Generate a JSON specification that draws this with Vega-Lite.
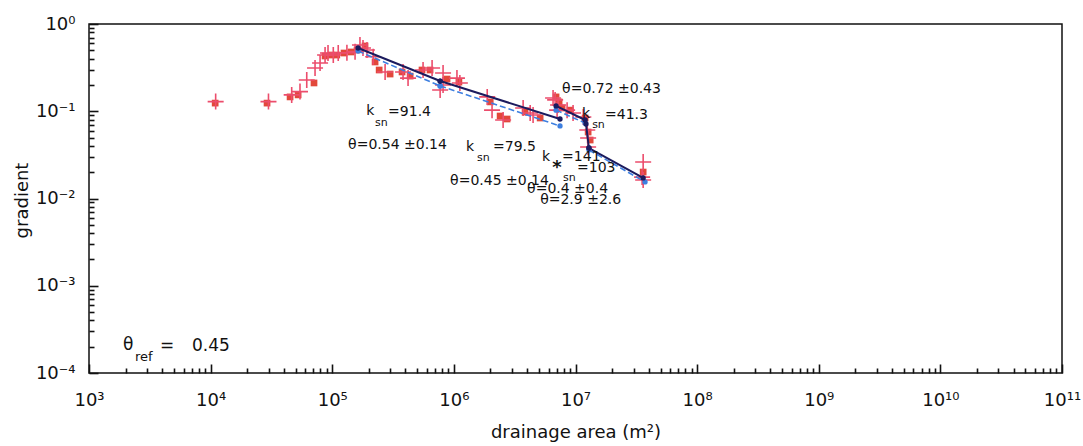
{
  "$schema": "https://vega.github.io/schema/vega-lite/v6.json",
  "width": 973,
  "height": 349,
  "autosize": {"type": "none"},
  "padding": {"left": 89, "top": 24, "right": 21, "bottom": 73},
  "background": "white",
  "config": {"view": {"stroke": "#111", "strokeWidth": 1.5}, "font": "DejaVu Sans"},
  "datasets": {
    "squares": [
      {"x": 10900, "y": 0.124}, {"x": 29100, "y": 0.124}, {"x": 45000, "y": 0.146}, {"x": 52400, "y": 0.154},
      {"x": 70800, "y": 0.211}, {"x": 87300, "y": 0.43}, {"x": 97800, "y": 0.441}, {"x": 109000, "y": 0.441},
      {"x": 125000, "y": 0.465}, {"x": 143000, "y": 0.478}, {"x": 160000, "y": 0.503}, {"x": 186000, "y": 0.56},
      {"x": 225000, "y": 0.367}, {"x": 243000, "y": 0.297}, {"x": 299000, "y": 0.267}, {"x": 375000, "y": 0.282},
      {"x": 437000, "y": 0.253}, {"x": 547000, "y": 0.297}, {"x": 637000, "y": 0.297}, {"x": 879000, "y": 0.234},
      {"x": 1100000, "y": 0.216}, {"x": 1990000, "y": 0.128}, {"x": 2400000, "y": 0.0882}, {"x": 2740000, "y": 0.0815},
      {"x": 3850000, "y": 0.098}, {"x": 5120000, "y": 0.0837}, {"x": 6920000, "y": 0.146}, {"x": 7330000, "y": 0.128},
      {"x": 7760000, "y": 0.109}, {"x": 9040000, "y": 0.103}, {"x": 12000000, "y": 0.0837}, {"x": 12700000, "y": 0.0578},
      {"x": 13200000, "y": 0.0468}, {"x": 36000000, "y": 0.0201}
    ],
    "crosses": [
      {"x": 11000, "y": 0.129}, {"x": 29900, "y": 0.129}, {"x": 46400, "y": 0.154}, {"x": 54300, "y": 0.168},
      {"x": 61700, "y": 0.228}, {"x": 72200, "y": 0.313}, {"x": 79400, "y": 0.357}, {"x": 87300, "y": 0.441},
      {"x": 92300, "y": 0.465}, {"x": 102000, "y": 0.441}, {"x": 112000, "y": 0.465}, {"x": 132000, "y": 0.469},
      {"x": 154000, "y": 0.481}, {"x": 169000, "y": 0.574}, {"x": 179000, "y": 0.531}, {"x": 193000, "y": 0.503},
      {"x": 217000, "y": 0.422}, {"x": 272000, "y": 0.282}, {"x": 382000, "y": 0.282}, {"x": 420000, "y": 0.24},
      {"x": 558000, "y": 0.297}, {"x": 662000, "y": 0.313}, {"x": 815000, "y": 0.274}, {"x": 1060000, "y": 0.24},
      {"x": 1120000, "y": 0.211}, {"x": 771000, "y": 0.175}, {"x": 815000, "y": 0.2}, {"x": 1880000, "y": 0.146},
      {"x": 2060000, "y": 0.103}, {"x": 2540000, "y": 0.0794}, {"x": 3710000, "y": 0.109}, {"x": 4240000, "y": 0.0955},
      {"x": 4480000, "y": 0.0906}, {"x": 6540000, "y": 0.142}, {"x": 7060000, "y": 0.103}, {"x": 6800000, "y": 0.135},
      {"x": 7190000, "y": 0.118}, {"x": 8530000, "y": 0.103}, {"x": 9550000, "y": 0.0955}, {"x": 11600000, "y": 0.0859},
      {"x": 12500000, "y": 0.061}, {"x": 12700000, "y": 0.0493}, {"x": 12700000, "y": 0.0389}, {"x": 36000000, "y": 0.0262},
      {"x": 36000000, "y": 0.0163}, {"x": 35300000, "y": 0.0176}
    ],
    "fit": [
      {"seg": "A", "x": 163000, "y": 0.531}, {"seg": "A", "x": 771000, "y": 0.222},
      {"seg": "B", "x": 771000, "y": 0.222}, {"seg": "B", "x": 7460000, "y": 0.0815},
      {"seg": "C", "x": 6920000, "y": 0.115}, {"seg": "C", "x": 12000000, "y": 0.0794},
      {"seg": "D", "x": 12200000, "y": 0.0714}, {"seg": "D", "x": 12900000, "y": 0.0379},
      {"seg": "E", "x": 12900000, "y": 0.0379}, {"seg": "E", "x": 36000000, "y": 0.0172}
    ],
    "ref": [
      {"seg": "A", "x": 163000, "y": 0.49}, {"seg": "A", "x": 771000, "y": 0.195},
      {"seg": "B", "x": 771000, "y": 0.195}, {"seg": "B", "x": 7460000, "y": 0.0678},
      {"seg": "C", "x": 6920000, "y": 0.103}, {"seg": "C", "x": 12000000, "y": 0.0733},
      {"seg": "D", "x": 12900000, "y": 0.036}, {"seg": "D", "x": 37300000, "y": 0.0155}
    ],
    "labels": [
      {"kind": "main", "t": "k", "x": 190000, "y": 0.1007},
      {"kind": "main", "t": "=91.4", "x": 288000, "y": 0.098},
      {"kind": "sub", "t": "sn", "x": 225000, "y": 0.0733},
      {"kind": "main", "t": "θ=0.54 ±0.14", "x": 135000, "y": 0.041},
      {"kind": "main", "t": "k", "x": 1260000, "y": 0.0389},
      {"kind": "main", "t": "=79.5", "x": 2100000, "y": 0.0389},
      {"kind": "sub", "t": "sn", "x": 1550000, "y": 0.0291},
      {"kind": "main", "t": "θ=0.45 ±0.14", "x": 931000, "y": 0.0159},
      {"kind": "main", "t": "θ=0.72 ±0.43", "x": 7760000, "y": 0.18},
      {"kind": "main", "t": "k", "x": 11300000, "y": 0.0929},
      {"kind": "main", "t": "=41.3", "x": 17500000, "y": 0.0906},
      {"kind": "sub", "t": "sn", "x": 13700000, "y": 0.0696},
      {"kind": "main", "t": "k", "x": 5310000, "y": 0.0299},
      {"kind": "main", "t": "=141", "x": 7760000, "y": 0.0299},
      {"kind": "star", "t": "*", "x": 6430000, "y": 0.0224},
      {"kind": "main", "t": "=103", "x": 10300000, "y": 0.0224},
      {"kind": "sub", "t": "sn", "x": 7910000, "y": 0.0172},
      {"kind": "main", "t": "θ=0.4 ±0.4", "x": 4000000, "y": 0.01285},
      {"kind": "main", "t": "θ=2.9 ±2.6", "x": 5120000, "y": 0.0096},
      {"kind": "big", "t": "θ", "x": 1900, "y": 0.000209},
      {"kind": "bigsub", "t": "ref", "x": 2390, "y": 0.000152},
      {"kind": "big", "t": "=", "x": 3840, "y": 0.000204},
      {"kind": "big", "t": "0.45", "x": 7030, "y": 0.000204}
    ]
  },
  "encoding": {
    "x": {
      "field": "x", "type": "quantitative",
      "scale": {"type": "log", "domain": [1000, 100000000000], "nice": false},
      "axis": {
        "orient": "bottom",
        "values": [1e3,2e3,3e3,4e3,5e3,6e3,7e3,8e3,9e3,1e4,2e4,3e4,4e4,5e4,6e4,7e4,8e4,9e4,1e5,2e5,3e5,4e5,5e5,6e5,7e5,8e5,9e5,1e6,2e6,3e6,4e6,5e6,6e6,7e6,8e6,9e6,1e7,2e7,3e7,4e7,5e7,6e7,7e7,8e7,9e7,1e8,2e8,3e8,4e8,5e8,6e8,7e8,8e8,9e8,1e9,2e9,3e9,4e9,5e9,6e9,7e9,8e9,9e9,1e10,2e10,3e10,4e10,5e10,6e10,7e10,8e10,9e10,1e11],
        "labelExpr": "abs(log(datum.value)/LN10 - round(log(datum.value)/LN10)) < 0.001 ? ['10³','10⁴','10⁵','10⁶','10⁷','10⁸','10⁹','10¹⁰','10¹¹'][round(log(datum.value)/LN10)-3] : ''",
        "tickSize": {"condition": {"test": "abs(log(datum.value)/LN10 - round(log(datum.value)/LN10)) < 0.001", "value": -9}, "value": -5},
        "labelPadding": 27,
        "labelOverlap": false,
        "labelFlush": false,
        "labelFont": "DejaVu Sans", "labelFontSize": 18, "labelColor": "#111",
        "tickColor": "#111", "tickWidth": 1.6, "domain": false,
        "grid": false,
        "title": "drainage area (m²)",
        "titleFont": "DejaVu Sans", "titleFontSize": 18, "titleFontWeight": "normal", "titleColor": "#111",
        "titleBaseline": "top", "titleY": 50
      }
    },
    "y": {
      "field": "y", "type": "quantitative",
      "scale": {"type": "log", "domain": [0.0001, 1], "nice": false},
      "axis": {
        "orient": "left",
        "values": [1e-4,2e-4,3e-4,4e-4,5e-4,6e-4,7e-4,8e-4,9e-4,1e-3,2e-3,3e-3,4e-3,5e-3,6e-3,7e-3,8e-3,9e-3,1e-2,2e-2,3e-2,4e-2,5e-2,6e-2,7e-2,8e-2,9e-2,0.1,0.2,0.3,0.4,0.5,0.6,0.7,0.8,0.9,1],
        "labelExpr": "abs(log(datum.value)/LN10 - round(log(datum.value)/LN10)) < 0.001 ? ['10⁻⁴','10⁻³','10⁻²','10⁻¹','10⁰'][round(log(datum.value)/LN10)+4] : ''",
        "tickSize": {"condition": {"test": "abs(log(datum.value)/LN10 - round(log(datum.value)/LN10)) < 0.001", "value": -9}, "value": -5},
        "labelPadding": 23,
        "labelOverlap": false,
        "labelFlush": false,
        "labelFont": "DejaVu Sans", "labelFontSize": 18, "labelColor": "#111",
        "tickColor": "#111", "tickWidth": 1.6, "domain": false,
        "grid": false,
        "title": "gradient",
        "titleFont": "DejaVu Sans", "titleFontSize": 18, "titleFontWeight": "normal", "titleColor": "#111",
        "titleBaseline": "middle", "titleX": -67, "titleY": 176
      }
    }
  },
  "layer": [
    {
      "data": {"name": "squares"},
      "mark": {"type": "square", "filled": true, "size": 45, "color": "#e2483a", "opacity": 1}
    },
    {
      "data": {"name": "crosses"},
      "mark": {"type": "point", "shape": "M-1,0L1,0M0,-1L0,1", "filled": false, "size": 256, "strokeWidth": 1.6, "color": "#ec4d6c", "opacity": 1}
    },
    {
      "data": {"name": "ref"},
      "mark": {"type": "line", "color": "#3d7fe0", "strokeWidth": 1.6, "strokeDash": [6, 3]},
      "encoding": {"detail": {"field": "seg"}}
    },
    {
      "data": {"name": "fit"},
      "mark": {"type": "line", "color": "#1b1b5e", "strokeWidth": 2},
      "encoding": {"detail": {"field": "seg"}}
    },
    {
      "data": {"name": "ref"},
      "mark": {"type": "point", "filled": true, "size": 28, "color": "#3d7fe0", "opacity": 1}
    },
    {
      "data": {"name": "fit"},
      "mark": {"type": "point", "filled": true, "size": 28, "color": "#1b1b5e", "opacity": 1}
    },
    {
      "data": {"name": "labels"},
      "transform": [{"filter": "datum.kind === 'main'"}],
      "mark": {"type": "text", "align": "left", "baseline": "middle", "font": "DejaVu Sans", "fontSize": 14, "color": "#111"},
      "encoding": {"text": {"field": "t"}}
    },
    {
      "data": {"name": "labels"},
      "transform": [{"filter": "datum.kind === 'sub'"}],
      "mark": {"type": "text", "align": "left", "baseline": "middle", "font": "DejaVu Sans", "fontSize": 11, "color": "#111"},
      "encoding": {"text": {"field": "t"}}
    },
    {
      "data": {"name": "labels"},
      "transform": [{"filter": "datum.kind === 'star'"}],
      "mark": {"type": "text", "align": "left", "baseline": "middle", "font": "DejaVu Sans", "fontSize": 18, "fontWeight": "bold", "color": "#111"},
      "encoding": {"text": {"field": "t"}}
    },
    {
      "data": {"name": "labels"},
      "transform": [{"filter": "datum.kind === 'big'"}],
      "mark": {"type": "text", "align": "left", "baseline": "middle", "font": "DejaVu Sans", "fontSize": 17, "color": "#111"},
      "encoding": {"text": {"field": "t"}}
    },
    {
      "data": {"name": "labels"},
      "transform": [{"filter": "datum.kind === 'bigsub'"}],
      "mark": {"type": "text", "align": "left", "baseline": "middle", "font": "DejaVu Sans", "fontSize": 13, "color": "#111"},
      "encoding": {"text": {"field": "t"}}
    }
  ]
}
